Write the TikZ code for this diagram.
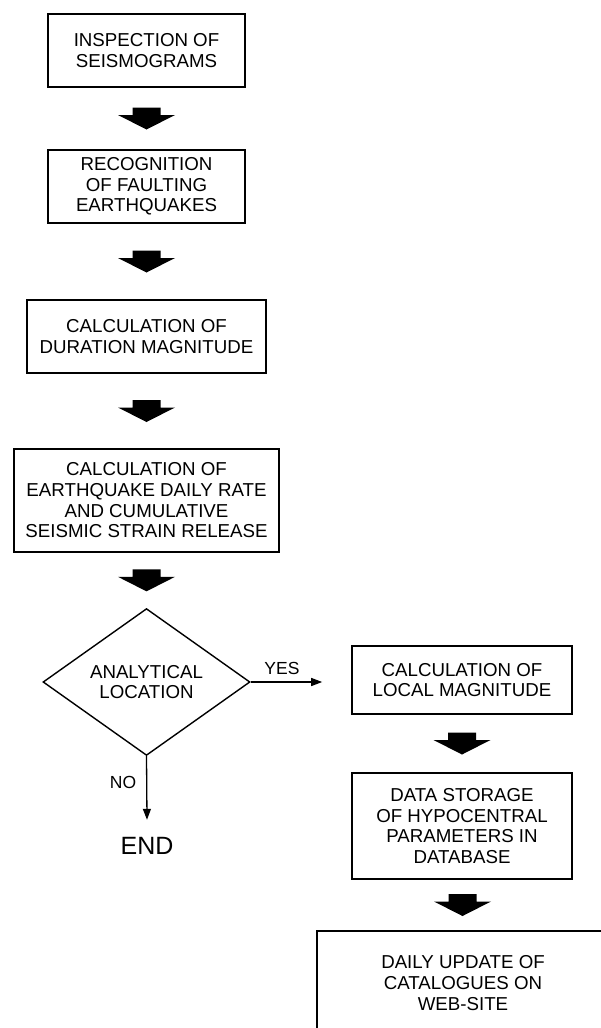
\documentclass[tikz,border=0pt]{standalone}
\usepackage{fontspec}
\setmainfont{Liberation Sans}
\usepackage{tikz}
\usetikzlibrary{arrows.meta, calc, positioning, shapes.geometric}
\tikzset{
  box/.style = {draw=black, line width=1.6pt, align=center, inner sep=0pt,
    font=\fontsize{18.7}{20.7}\selectfont},
  dec/.style = {box, diamond, line width=1.4pt,
    minimum width=207pt, minimum height=130pt},
  lbl/.style = {font=\fontsize{17.5}{20}\selectfont, inner sep=0pt},
  endnode/.style = {font=\fontsize{25}{28}\selectfont, inner sep=0pt,
    minimum height=52pt}
}
% thick block arrow half way between two boxes
\newcommand{\blk}[2]{%
  \fill ($(#1.south)!0.5!(#2.north)$) +(-14,-11) -- +(14,-11) -- +(14,-3.5)
    -- +(28.5,-3.5) -- +(0,11) -- +(-28.5,-3.5) -- +(-14,-3.5) -- cycle;}

\begin{document}
\begin{tikzpicture}[x=1pt, y=-1pt, >={Triangle[length=11pt,width=8pt]}]
\clip (0,0) rectangle (601,1028);
\node [box, minimum width=197pt, minimum height=73pt] (insp) at (146.5,50.5)
  {INSPECTION OF\\SEISMOGRAMS};
\node [box, minimum width=197pt, minimum height=73pt] (recog) at (146.5,186.5)
  {RECOGNITION\\OF FAULTING\\EARTHQUAKES};
\node [box, minimum width=239pt, minimum height=73pt] (durmag) at (146.5,336.5)
  {CALCULATION OF\\DURATION MAGNITUDE};
\node [box, minimum width=265pt, minimum height=103pt] (rate) at (146.5,500.5)
  {CALCULATION OF\\EARTHQUAKE DAILY RATE\\AND CUMULATIVE\\SEISMIC STRAIN RELEASE};
\node [dec] (anloc) at (146.5,682) {ANALYTICAL\\LOCATION};
\node [endnode] (end) at (147,846) {END};
\node [box, minimum width=220pt, minimum height=68pt] (locmag) at (462,680)
  {CALCULATION OF\\LOCAL MAGNITUDE};
\node [box, minimum width=220pt, minimum height=106pt] (store) at (462,826)
  {DATA STORAGE\\OF HYPOCENTRAL\\PARAMETERS IN\\DATABASE};
\node [box, minimum width=292pt, minimum height=104pt] (web) at (463,983)
  {DAILY UPDATE OF\\CATALOGUES ON\\WEB-SITE};

\blk{insp}{recog}
\blk{recog}{durmag}
\blk{durmag}{rate}
\blk{rate}{anloc}
\blk{locmag}{store}
\blk{store}{web}

\draw [->, line width=1.3pt, shorten >=29pt] (anloc.east) -- (anloc.east -| locmag.west);
\draw [->, line width=1.3pt] (anloc.south) -- (end.north);
\node [lbl] (yes) at (282,668) {YES};
\node [lbl] (no) at (123,782) {NO};
\end{tikzpicture}
\end{document}
